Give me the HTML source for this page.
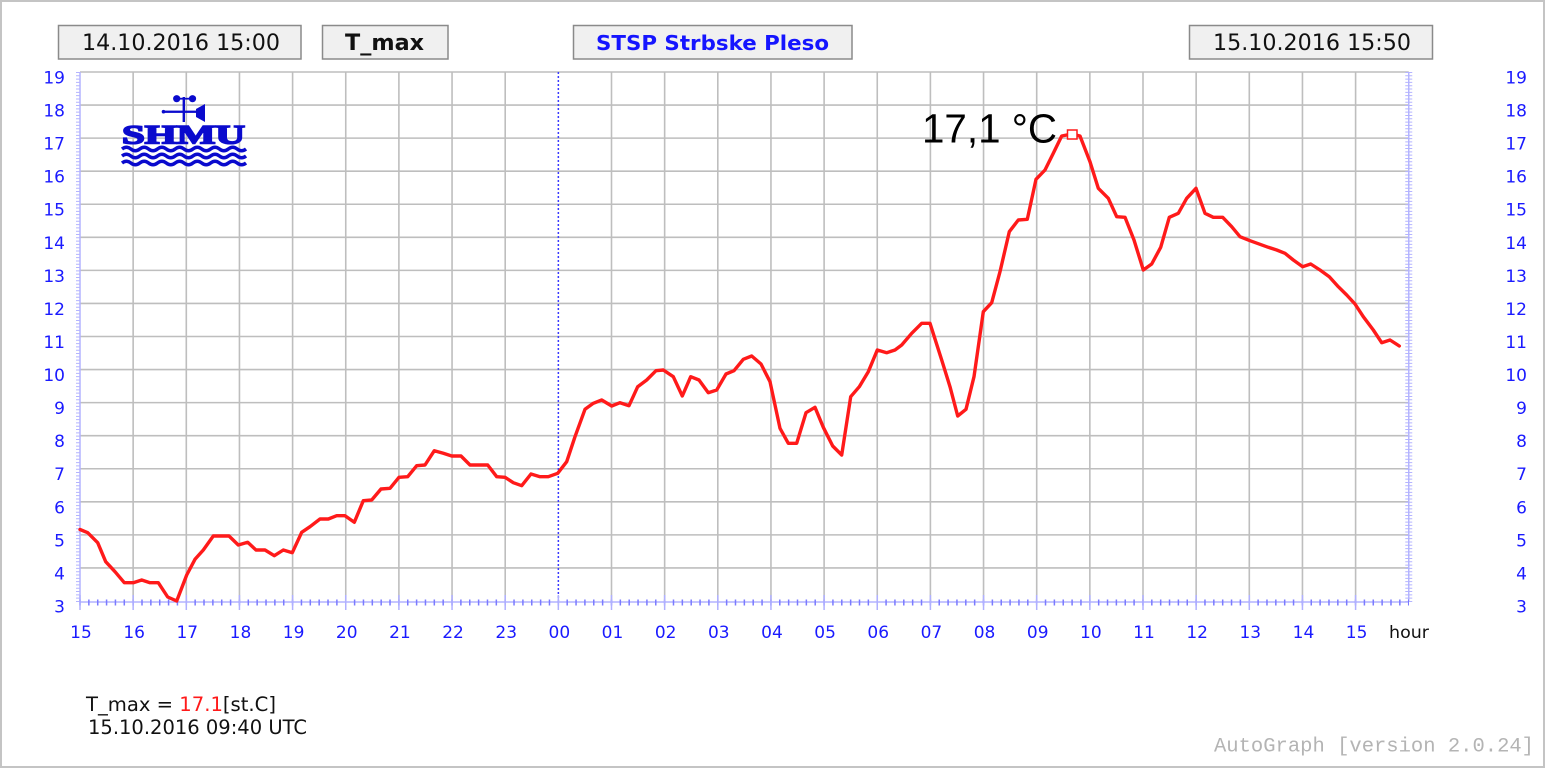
<!DOCTYPE html>
<html><head><meta charset="utf-8"><style>
html,body{margin:0;padding:0;background:#fff;}
svg{display:block;font-family:"DejaVu Sans","Liberation Sans",sans-serif;}
</style></head><body>
<svg width="1550" height="769" viewBox="0 0 1550 769" xmlns="http://www.w3.org/2000/svg">
<rect x="0" y="0" width="1550" height="769" fill="#fff"/>
<rect x="1" y="1" width="1543" height="766" fill="none" stroke="#c4c4c4" stroke-width="2"/>

<!-- header boxes -->
<g stroke="#8a8a8a" stroke-width="1.5" fill="#f0f0f0">
<rect x="58.5" y="25.5" width="242.5" height="33.5"/>
<rect x="322.5" y="25.5" width="125.5" height="33.5"/>
<rect x="573.5" y="25.5" width="278.5" height="33.5"/>
<rect x="1189.5" y="25.5" width="243" height="33.5"/>
</g>
<text x="82" y="50" font-size="22" fill="#111" textLength="198" lengthAdjust="spacingAndGlyphs">14.10.2016 15:00</text>
<text x="345" y="50" font-size="22" font-weight="bold" fill="#111" textLength="79" lengthAdjust="spacingAndGlyphs">T_max</text>
<text x="596" y="50" font-size="20" font-weight="bold" fill="#1515ff" textLength="233" lengthAdjust="spacingAndGlyphs">STSP Strbske Pleso</text>
<text x="1213" y="50" font-size="22" fill="#111" textLength="198" lengthAdjust="spacingAndGlyphs">15.10.2016 15:50</text>

<!-- grid -->
<g stroke="#bebebe" stroke-width="1.6">
<line x1="80" y1="72" x2="1408.75" y2="72"/>
<line x1="80" y1="105.06" x2="1408.75" y2="105.06"/>
<line x1="80" y1="138.13" x2="1408.75" y2="138.13"/>
<line x1="80" y1="171.19" x2="1408.75" y2="171.19"/>
<line x1="80" y1="204.25" x2="1408.75" y2="204.25"/>
<line x1="80" y1="237.31" x2="1408.75" y2="237.31"/>
<line x1="80" y1="270.38" x2="1408.75" y2="270.38"/>
<line x1="80" y1="303.44" x2="1408.75" y2="303.44"/>
<line x1="80" y1="336.5" x2="1408.75" y2="336.5"/>
<line x1="80" y1="369.56" x2="1408.75" y2="369.56"/>
<line x1="80" y1="402.63" x2="1408.75" y2="402.63"/>
<line x1="80" y1="435.69" x2="1408.75" y2="435.69"/>
<line x1="80" y1="468.75" x2="1408.75" y2="468.75"/>
<line x1="80" y1="501.81" x2="1408.75" y2="501.81"/>
<line x1="80" y1="534.88" x2="1408.75" y2="534.88"/>
<line x1="80" y1="567.94" x2="1408.75" y2="567.94"/>
<line x1="133.15" y1="72" x2="133.15" y2="601"/>
<line x1="186.3" y1="72" x2="186.3" y2="601"/>
<line x1="239.45" y1="72" x2="239.45" y2="601"/>
<line x1="292.6" y1="72" x2="292.6" y2="601"/>
<line x1="345.75" y1="72" x2="345.75" y2="601"/>
<line x1="398.9" y1="72" x2="398.9" y2="601"/>
<line x1="452.05" y1="72" x2="452.05" y2="601"/>
<line x1="505.2" y1="72" x2="505.2" y2="601"/>
<line x1="611.5" y1="72" x2="611.5" y2="601"/>
<line x1="664.65" y1="72" x2="664.65" y2="601"/>
<line x1="717.8" y1="72" x2="717.8" y2="601"/>
<line x1="770.95" y1="72" x2="770.95" y2="601"/>
<line x1="824.1" y1="72" x2="824.1" y2="601"/>
<line x1="877.25" y1="72" x2="877.25" y2="601"/>
<line x1="930.4" y1="72" x2="930.4" y2="601"/>
<line x1="983.55" y1="72" x2="983.55" y2="601"/>
<line x1="1036.7" y1="72" x2="1036.7" y2="601"/>
<line x1="1089.85" y1="72" x2="1089.85" y2="601"/>
<line x1="1143" y1="72" x2="1143" y2="601"/>
<line x1="1196.15" y1="72" x2="1196.15" y2="601"/>
<line x1="1249.3" y1="72" x2="1249.3" y2="601"/>
<line x1="1302.45" y1="72" x2="1302.45" y2="601"/>
<line x1="1355.6" y1="72" x2="1355.6" y2="601"/>
</g>
<line x1="558.35" y1="72" x2="558.35" y2="601" stroke="#3a3aff" stroke-width="1.5" stroke-dasharray="2,2"/>

<!-- axes -->
<g stroke="#b4b4ff">
<line x1="80" y1="72" x2="80" y2="602" stroke-width="1.5"/>
<line x1="1408.75" y1="72" x2="1408.75" y2="602" stroke-width="1.5"/>
<line x1="80" y1="602" x2="1408.75" y2="602" stroke-width="1.5"/>
<line x1="78" y1="72" x2="78" y2="602" stroke-width="4" stroke-dasharray="1 2.306"/>
<line x1="1408.75" y1="72" x2="1408.75" y2="602" stroke-width="7" stroke-dasharray="1 2.306"/>
</g>
<line x1="79.25" y1="602.5" x2="1409" y2="602.5" stroke="#7a7aff" stroke-width="6" stroke-dasharray="1.5 7.358"/>
<g stroke="#b0b0ff" stroke-width="1.5">
<line x1="80" y1="595" x2="80" y2="610"/>
<line x1="133.15" y1="595" x2="133.15" y2="610"/>
<line x1="186.3" y1="595" x2="186.3" y2="610"/>
<line x1="239.45" y1="595" x2="239.45" y2="610"/>
<line x1="292.6" y1="595" x2="292.6" y2="610"/>
<line x1="345.75" y1="595" x2="345.75" y2="610"/>
<line x1="398.9" y1="595" x2="398.9" y2="610"/>
<line x1="452.05" y1="595" x2="452.05" y2="610"/>
<line x1="505.2" y1="595" x2="505.2" y2="610"/>
<line x1="558.35" y1="595" x2="558.35" y2="610"/>
<line x1="611.5" y1="595" x2="611.5" y2="610"/>
<line x1="664.65" y1="595" x2="664.65" y2="610"/>
<line x1="717.8" y1="595" x2="717.8" y2="610"/>
<line x1="770.95" y1="595" x2="770.95" y2="610"/>
<line x1="824.1" y1="595" x2="824.1" y2="610"/>
<line x1="877.25" y1="595" x2="877.25" y2="610"/>
<line x1="930.4" y1="595" x2="930.4" y2="610"/>
<line x1="983.55" y1="595" x2="983.55" y2="610"/>
<line x1="1036.7" y1="595" x2="1036.7" y2="610"/>
<line x1="1089.85" y1="595" x2="1089.85" y2="610"/>
<line x1="1143" y1="595" x2="1143" y2="610"/>
<line x1="1196.15" y1="595" x2="1196.15" y2="610"/>
<line x1="1249.3" y1="595" x2="1249.3" y2="610"/>
<line x1="1302.45" y1="595" x2="1302.45" y2="610"/>
<line x1="1355.6" y1="595" x2="1355.6" y2="610"/>
</g>

<!-- y labels -->
<g font-size="17" fill="#1a1aff" text-anchor="end">
<text x="65" y="83.5">19</text><text x="65" y="116.5">18</text><text x="65" y="149.6">17</text><text x="65" y="182.7">16</text>
<text x="65" y="215.7">15</text><text x="65" y="248.8">14</text><text x="65" y="281.9">13</text><text x="65" y="314.9">12</text>
<text x="65" y="348">11</text><text x="65" y="381">10</text><text x="65" y="414.1">9</text><text x="65" y="447.2">8</text>
<text x="65" y="480.2">7</text><text x="65" y="513.3">6</text><text x="65" y="546.4">5</text><text x="65" y="579.4">4</text><text x="65" y="612.5">3</text>
<text x="1527" y="83.5">19</text><text x="1527" y="116.5">18</text><text x="1527" y="149.6">17</text><text x="1527" y="182.7">16</text>
<text x="1527" y="215.7">15</text><text x="1527" y="248.8">14</text><text x="1527" y="281.9">13</text><text x="1527" y="314.9">12</text>
<text x="1527" y="348">11</text><text x="1527" y="381">10</text><text x="1527" y="414.1">9</text><text x="1527" y="447.2">8</text>
<text x="1527" y="480.2">7</text><text x="1527" y="513.3">6</text><text x="1527" y="546.4">5</text><text x="1527" y="579.4">4</text><text x="1527" y="612.5">3</text>
</g>
<!-- x labels -->
<g font-size="17" fill="#1a1aff" text-anchor="middle">
<text x="81" y="638">15</text><text x="134.15" y="638">16</text><text x="187.3" y="638">17</text><text x="240.45" y="638">18</text>
<text x="293.6" y="638">19</text><text x="346.75" y="638">20</text><text x="399.9" y="638">21</text><text x="453.05" y="638">22</text>
<text x="506.2" y="638">23</text><text x="559.35" y="638">00</text><text x="612.5" y="638">01</text><text x="665.65" y="638">02</text>
<text x="718.8" y="638">03</text><text x="771.95" y="638">04</text><text x="825.1" y="638">05</text><text x="878.25" y="638">06</text>
<text x="931.4" y="638">07</text><text x="984.55" y="638">08</text><text x="1037.7" y="638">09</text><text x="1090.85" y="638">10</text>
<text x="1144" y="638">11</text><text x="1197.15" y="638">12</text><text x="1250.3" y="638">13</text><text x="1303.45" y="638">14</text>
<text x="1356.6" y="638">15</text>
</g>
<text x="1389" y="638" font-size="17" fill="#111" textLength="40" lengthAdjust="spacingAndGlyphs">hour</text>

<!-- logo -->
<g fill="#0a0acd" stroke="none">
<circle cx="176.7" cy="98.7" r="3.6"/>
<circle cx="192.5" cy="98.7" r="3.6"/>
<rect x="176.7" y="97.8" width="15.8" height="1.8"/>
<rect x="182.6" y="97" width="2.4" height="25"/>
<rect x="163" y="110.6" width="34" height="2.3"/>
<circle cx="163.5" cy="111.7" r="1.8"/>
<polygon points="196,109 205,104 205,122 196,117"/>
<text x="122" y="143.5" style="font-family:'Liberation Serif',serif;font-weight:bold;" font-size="26" stroke="#0a0acd" stroke-width="1.6" textLength="123" lengthAdjust="spacingAndGlyphs">SHMU</text>
</g>
<g fill="none" stroke="#0a0acd" stroke-width="3.5">
<path d="M122,149 q4.43,-3.5 8.86,0 t8.86,0 t8.86,0 t8.86,0 t8.86,0 t8.86,0 t8.86,0 t8.86,0 t8.86,0 t8.86,0 t8.86,0 t8.86,0 t8.86,0 t8.86,0"/>
<path d="M122,156 q4.43,-3.5 8.86,0 t8.86,0 t8.86,0 t8.86,0 t8.86,0 t8.86,0 t8.86,0 t8.86,0 t8.86,0 t8.86,0 t8.86,0 t8.86,0 t8.86,0 t8.86,0"/>
<path d="M122,163 q4.43,-3.5 8.86,0 t8.86,0 t8.86,0 t8.86,0 t8.86,0 t8.86,0 t8.86,0 t8.86,0 t8.86,0 t8.86,0 t8.86,0 t8.86,0 t8.86,0 t8.86,0"/>
</g>

<!-- data line -->
<polyline fill="none" stroke="#ff1a1a" stroke-width="3.4" stroke-linejoin="round" stroke-linecap="round" points="
80,529.5 87.7,532.7 97.7,542.7 105.7,561.7 115,571.7 124.3,582.7 133.3,582.7 141.7,580 150,582.7 158.3,582.7
167.7,597 176.7,601 186.7,575 195,559.3 203.3,550 213.3,536 229,536 238.3,545 247.7,542.3 256,550 265,550
274.3,555.7 283.3,550 292.3,552.7 301.7,532.3 310,526.7 320,519 328.3,519 336.7,515.7 345,515.7 354.3,522.3
363.3,500.7 371.7,500 381,489 390,488.3 399,477.3 407.7,476.7 416.7,465.7 425,465 434.3,450.7 443.3,453.3
451.7,456 461,456 470,465 487.7,465 496.7,476.7 505,477.3 513.3,482.7 521.7,485.7 531,474 540,476.7 548.3,476.7
557.7,473.3 566.7,461.7 575,436.7 585,409.3 593.3,403.3 601.7,400 611.7,406 620,402.7 629,405.7 637.7,386.7
646.7,380 656,370.7 663.3,370 673.3,376.7 682.3,396 690.7,376.7 699,380 708.3,392.7 716.7,390 726,374 734,370.7
743.3,359.3 751.7,356 761,364 770,381.7 780,428.3 788.3,443.3 796.7,443.3 806,412.7 815,407.3 823.3,427.3
832.7,446 841.7,455 850.7,396.7 859.3,386.7 868.3,371.7 877.3,350 886.7,352.7 895,350 901.7,345 911.7,333.3
921.7,323.3 930,323.3 941.7,360 950,386.7 957.7,416 966,409.3 974,376.7 983.3,311.7 991.7,302.7 1000,271.7
1009.3,231.7 1018.3,220 1027.3,219.3 1036,179.3 1045,170 1053.3,153.3 1061.7,136 1071.7,134 1080,136 1090,161.7
1098.3,188.3 1108.3,198.3 1116.7,216.7 1125,217.3 1134,240 1143.3,270 1151.7,264 1160.7,247.3 1169.3,217.3
1178.3,213.3 1186.7,198.3 1196,188.3 1205,213.3 1213.3,217.3 1222.7,217.3 1231.7,226.7 1240,236.7 1250,240.7
1260,244.3 1268.3,247.3 1276.7,250 1285,253.3 1293.3,260 1302.7,266.7 1310.7,264 1320,270 1329.3,276.7
1338.3,286.7 1346.7,295 1355,304 1363.3,316.7 1373.3,330 1381.7,342.7 1390,340 1399.3,346"/>

<!-- max marker -->
<rect x="1067.5" y="130" width="9.5" height="9" fill="#fff" stroke="#ff1a1a" stroke-width="1.5"/>
<text x="922" y="142.7" style="font-family:'Liberation Sans',Arial,sans-serif;" font-size="41" fill="#000" textLength="135" lengthAdjust="spacingAndGlyphs">17,1 °C</text>

<!-- footer -->
<text x="86" y="711" font-size="19.5" fill="#111" textLength="190" lengthAdjust="spacingAndGlyphs">T_max = <tspan fill="#ff1a1a">17.1</tspan>[st.C]</text>
<text x="88" y="734" font-size="19.5" fill="#111" textLength="219" lengthAdjust="spacingAndGlyphs">15.10.2016 09:40 UTC</text>
<text x="1214" y="751.5" style="font-family:'Liberation Mono','DejaVu Sans Mono',monospace;" font-size="20.5" fill="#b4b4b4" textLength="320" lengthAdjust="spacingAndGlyphs">AutoGraph [version 2.0.24]</text>
</svg>
</body></html>
